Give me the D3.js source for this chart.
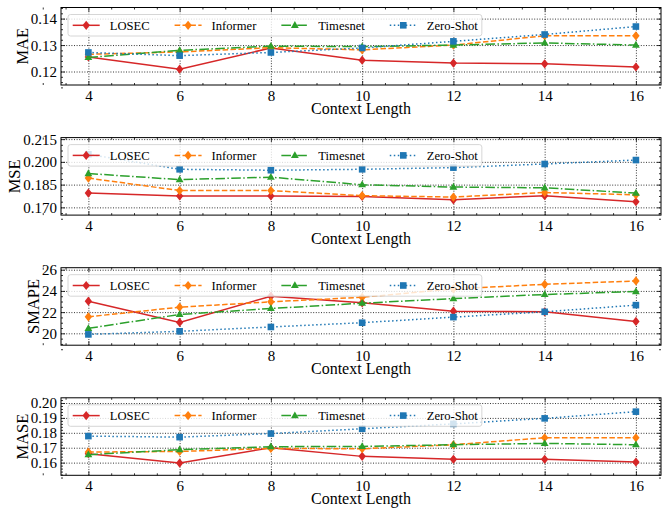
<!DOCTYPE html>
<html>
<head>
<meta charset="utf-8">
<script src="https://cdn.jsdelivr.net/npm/d3@7"></script>
<style>
  body { margin: 0; background: #fff; }
  svg text { font-family: "Liberation Serif", "Times New Roman", serif; fill: #000; }
  .tick line { stroke: #000; }
  .domain { display: none; }
</style>
</head>
<body>
<svg width="670" height="510"></svg>
<script>
// x values
const contextLengths = [4, 6, 8, 10, 12, 14, 16];
const seriesNames = ["LOSEC", "Informer", "Timesnet", "Zero-Shot"];

// MAE
const maeLosec = [0.1255, 0.1209, 0.1289, 0.1243, 0.1232, 0.1229, 0.1217];
const maeInformer = [0.1265, 0.1274, 0.1290, 0.1282, 0.1300, 0.1335, 0.1335];
const maeTimesnet = [0.1253, 0.1280, 0.1296, 0.1294, 0.1300, 0.1308, 0.1300];
const maeZeroShot = [0.1272, 0.1260, 0.1272, 0.1289, 0.1314, 0.1340, 0.1370];
const maeTicks = [0.12, 0.13, 0.14];

// MSE
const mseLosec = [0.1794, 0.1775, 0.1775, 0.1772, 0.1750, 0.1777, 0.1737];
const mseInformer = [0.1893, 0.1811, 0.1811, 0.1777, 0.1768, 0.1798, 0.1783];
const mseTimesnet = [0.1923, 0.1883, 0.1899, 0.1849, 0.1834, 0.1829, 0.1794];
const mseZeroShot = [0.2050, 0.1951, 0.1945, 0.1951, 0.1962, 0.1986, 0.2012];
const mseTicks = [0.170, 0.185, 0.200, 0.215];

// SMAPE
const smapeLosec = [23.03, 21.03, 23.5, 22.88, 22.09, 22.03, 21.12];
const smapeInformer = [21.56, 22.47, 22.97, 23.4, 24.19, 24.62, 24.94];
const smapeTimesnet = [20.47, 21.78, 22.34, 22.84, 23.28, 23.66, 23.94];
const smapeZeroShot = [19.9, 20.19, 20.6, 21.0, 21.53, 22.03, 22.66];
const smapeTicks = [20, 22, 24, 26];

// MASE
const maseLosec = [0.1660, 0.1597, 0.1700, 0.1642, 0.1622, 0.1622, 0.1604];
const maseInformer = [0.1671, 0.1675, 0.1695, 0.1693, 0.1720, 0.1767, 0.1767];
const maseTimesnet = [0.1653, 0.1687, 0.1707, 0.1709, 0.1720, 0.1729, 0.1720];
const maseZeroShot = [0.1778, 0.1771, 0.1795, 0.1827, 0.1860, 0.1897, 0.1942];
const maseTicks = [0.16, 0.17, 0.18, 0.19, 0.20];

const xTicks = [4, 6, 8, 10, 12, 14, 16];

// panel setup
const panels = [
  { label: "MAE", series: [maeLosec, maeInformer, maeTimesnet, maeZeroShot], ticks: maeTicks, domain: [0.1149, 0.1442], fmt: d3.format(".2f"), minorDiv: 5 },
  { label: "MSE", series: [mseLosec, mseInformer, mseTimesnet, mseZeroShot], ticks: mseTicks, domain: [0.1649, 0.2160], fmt: d3.format(".3f"), minorDiv: 4 },
  { label: "SMAPE", series: [smapeLosec, smapeInformer, smapeTimesnet, smapeZeroShot], ticks: smapeTicks, domain: [18.88, 26.19], fmt: d3.format("d"), minorDiv: 4 },
  { label: "MASE", series: [maseLosec, maseInformer, maseTimesnet, maseZeroShot], ticks: maseTicks, domain: [0.1515, 0.2035], fmt: d3.format(".2f"), minorDiv: 5 }
];

const colors = ["#d62728", "#ff7f0e", "#2ca02c", "#1f77b4"];
const dashes = [null, "5.5,2.4", "9.6,2.4,1.5,2.4", "1.5,2.5"];
const markers = ["diamond", "diamond", "triangle", "square"];

const left = 61, right = 661;
const panelH = 77.5, panelStep = 130.1, firstTop = 7.5;

const svg = d3.select("svg");

const x = d3.scaleLinear().domain([3.4, 16.55]).range([left, right]);

function minorTicks(ticks, div, domain) {
  const step = (ticks[1] - ticks[0]) / div;
  const out = [];
  const start = ticks[0] - Math.ceil((ticks[0] - domain[0]) / step) * step;
  for (let v = start; v <= domain[1] + 1e-9; v += step) {
    if (!ticks.some(t => Math.abs(t - v) < step / 10)) out.push(v);
  }
  return out;
}

function drawMarker(g, type, cx, cy, color) {
  if (type === "diamond") {
    g.append("path")
      .attr("d", `M${cx},${cy - 4.6}L${cx + 3.7},${cy}L${cx},${cy + 4.6}L${cx - 3.7},${cy}Z`)
      .attr("fill", color);
  } else if (type === "triangle") {
    g.append("path")
      .attr("d", `M${cx},${cy - 4.2}L${cx + 3.9},${cy + 2.6}L${cx - 3.9},${cy + 2.6}Z`)
      .attr("fill", color);
  } else {
    g.append("rect")
      .attr("x", cx - 3.3).attr("y", cy - 3.3)
      .attr("width", 6.6).attr("height", 6.6)
      .attr("fill", color);
  }
}

panels.forEach((p, i) => {
  const top = firstTop + i * panelStep;
  const bottom = top + panelH;
  const y = d3.scaleLinear().domain(p.domain).range([bottom, top]);
  const g = svg.append("g");

  // grid
  g.append("g")
    .attr("transform", `translate(0,${bottom})`)
    .call(d3.axisBottom(x).tickValues(xTicks).tickSize(-panelH).tickFormat(""))
    .selectAll("line").attr("stroke", "#777").attr("stroke-width", 0.8).attr("stroke-dasharray", "1,1.6");
  g.append("g")
    .attr("transform", `translate(${left},0)`)
    .call(d3.axisLeft(y).tickValues(p.ticks).tickSize(-(right - left)).tickFormat(""))
    .selectAll("line").attr("stroke", "#777").attr("stroke-width", 0.8).attr("stroke-dasharray", "1,1.6");

  // lines + markers
  p.series.forEach((vals, s) => {
    const pts = contextLengths.map((c, k) => [x(c), y(vals[k])]);
    g.append("path")
      .attr("d", d3.line()(pts))
      .attr("fill", "none")
      .attr("stroke", colors[s])
      .attr("stroke-width", 1.5)
      .attr("stroke-dasharray", dashes[s]);
    const mg = g.append("g");
    pts.forEach(pt => drawMarker(mg, markers[s], pt[0], pt[1], colors[s]));
  });

  // frame
  g.append("rect")
    .attr("x", left).attr("y", top)
    .attr("width", right - left).attr("height", panelH)
    .attr("fill", "none").attr("stroke", "#000").attr("stroke-width", 1);

  // x axes (bottom labelled, top plain), ticks inward
  const xMinor = minorTicks(xTicks, 4, x.domain());
  const xb = g.append("g").attr("transform", `translate(0,${bottom})`)
    .call(d3.axisBottom(x).tickValues(xTicks).tickSize(-4).tickPadding(0));
  xb.selectAll("text").attr("y", 15.5).attr("dy", null).attr("font-size", 15);
  g.append("g").attr("transform", `translate(0,${bottom})`)
    .call(d3.axisBottom(x).tickValues(xMinor).tickSize(-2).tickFormat(""));
  g.append("g").attr("transform", `translate(0,${top})`)
    .call(d3.axisTop(x).tickValues(xTicks).tickSize(-4).tickFormat(""));
  g.append("g").attr("transform", `translate(0,${top})`)
    .call(d3.axisTop(x).tickValues(xMinor).tickSize(-2).tickFormat(""));

  // y axes
  const yMinor = minorTicks(p.ticks, p.minorDiv, p.domain);
  const yl = g.append("g").attr("transform", `translate(${left},0)`)
    .call(d3.axisLeft(y).tickValues(p.ticks).tickSize(-4).tickPadding(4).tickFormat(p.fmt));
  yl.selectAll("text").attr("font-size", 15).attr("dy", "0.33em");
  g.append("g").attr("transform", `translate(${left},0)`)
    .call(d3.axisLeft(y).tickValues(yMinor).tickSize(-2).tickFormat(""));
  g.append("g").attr("transform", `translate(${right},0)`)
    .call(d3.axisRight(y).tickValues(p.ticks).tickSize(-4).tickFormat(""));
  g.append("g").attr("transform", `translate(${right},0)`)
    .call(d3.axisRight(y).tickValues(yMinor).tickSize(-2).tickFormat(""));
  g.selectAll(".tick line").attr("stroke-width", 0.8);

  // axis labels
  g.append("text")
    .attr("x", (left + right) / 2).attr("y", bottom + 29)
    .attr("text-anchor", "middle").attr("font-size", 16)
    .text("Context Length");
  const tickLeft = d3.min(yl.selectAll("text").nodes(), n => n.getBBox().x) + left;
  g.append("text")
    .attr("transform", `translate(${tickLeft - 3},${(top + bottom) / 2}) rotate(-90)`)
    .attr("text-anchor", "middle").attr("font-size", 16.5)
    .text(p.label);

  // legend
  const lg = g.append("g");
  const box = lg.append("rect")
    .attr("x", 68).attr("y", top + 7).attr("height", 21.5).attr("rx", 2.5)
    .attr("fill", "#fff").attr("fill-opacity", 0.8)
    .attr("stroke", "#ccc").attr("stroke-width", 0.8);
  let lx = 72.7;
  const ly = top + 17.8;
  seriesNames.forEach((name, s) => {
    lg.append("line")
      .attr("x1", lx).attr("x2", lx + 27).attr("y1", ly).attr("y2", ly)
      .attr("stroke", colors[s]).attr("stroke-width", 1.5)
      .attr("stroke-dasharray", dashes[s]);
    drawMarker(lg, markers[s], lx + 13.5, ly, colors[s]);
    const t = lg.append("text")
      .attr("x", lx + 37).attr("y", ly + 4.5)
      .attr("font-size", 12.6).text(name);
    const w = t.node().getComputedTextLength();
    lx = lx + 37 + w + 25;
  });
  box.attr("width", lx - 25 + 4 - 68);
});
</script>
</body>
</html>
